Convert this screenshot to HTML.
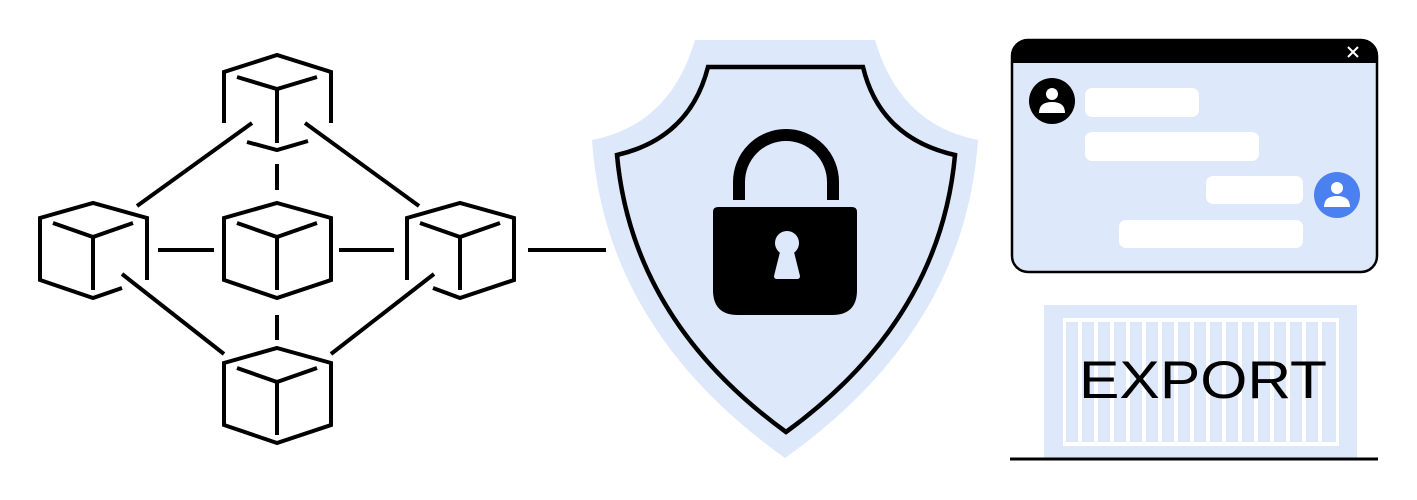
<!DOCTYPE html>
<html><head><meta charset="utf-8"><style>html,body{margin:0;padding:0;background:#fff}svg{display:block}</style></head>
<body>
<svg width="1417" height="500" viewBox="0 0 1417 500" xmlns="http://www.w3.org/2000/svg">
<g fill="none" stroke="#000" stroke-width="4" stroke-linejoin="miter">
  <!-- top cube (broken bottom) -->
  <polyline points="224,123 224,72 277,55 331,72 331,123"/>
  <polyline points="237,77 277,89 317,77"/>
  <line x1="277" y1="89" x2="277" y2="143"/>
  <polyline points="247,142 277,150 308,141"/>
  <!-- middle cube -->
  <polygon points="277,203 331,218 331,280 277,298 224,280 224,218"/>
  <polyline points="237,223 277,237 317,223"/>
  <line x1="277" y1="237" x2="277" y2="290"/>
  <!-- left cube -->
  <polyline points="122,288 93,298 40,280 40,218 93,203 147,218 147,280"/>
  <polyline points="53,223 93,237 133,223"/>
  <line x1="93" y1="237" x2="93" y2="290"/>
  <!-- right cube -->
  <polyline points="407,280 407,218 460,203 514,218 514,280 460,298 433,288"/>
  <polyline points="420,223 460,237 500,223"/>
  <line x1="460" y1="237" x2="460" y2="290"/>
  <!-- bottom cube -->
  <polygon points="277,348 331,363 331,425 277,443 224,425 224,363"/>
  <polyline points="237,368 277,382 317,368"/>
  <line x1="277" y1="382" x2="277" y2="435"/>
  <!-- connectors -->
  <line x1="252" y1="123" x2="137" y2="206"/>
  <line x1="305" y1="123" x2="419" y2="206"/>
  <line x1="158" y1="250" x2="214" y2="250"/>
  <line x1="339" y1="250" x2="394" y2="250"/>
  <line x1="528" y1="250" x2="606" y2="250"/>
  <line x1="122" y1="274" x2="224" y2="354"/>
  <line x1="434" y1="274" x2="331" y2="354"/>
  <line x1="277" y1="164" x2="277" y2="190"/>
  <line x1="277" y1="315" x2="277" y2="340"/>
</g>
<!-- shield -->
<path d="M695,40 L875,40 Q900,125 978,140 Q965,330 785,458 Q605,330 592,140 Q670,125 695,40 Z" fill="#dde8fa"/>
<path d="M708,67 L863,67 Q880,138 955,155 Q940,320 786,432 Q632,320 617,155 Q690,138 708,67 Z" fill="#dde8fa" stroke="#000" stroke-width="4.5"/>
<path d="M739,200 L739,182 A47,47 0 0 1 833,182 L833,200" fill="none" stroke="#000" stroke-width="12"/>
<path d="M718,207 L852,207 Q857,207 857,212 L857,290 Q857,315 832,315 L738,315 Q713,315 713,290 L713,212 Q713,207 718,207 Z" fill="#000"/>
<circle cx="787" cy="243" r="12" fill="#dde8fa"/>
<path d="M781,248 L793,248 L800,276 Q800,279 797,279 L777,279 Q774,279 774,276 Z" fill="#dde8fa"/>
<!-- chat window -->
<rect x="1012" y="40" width="365" height="232" rx="16" fill="#dde8fa" stroke="#000" stroke-width="2.5"/>
<path d="M1028,40 L1361,40 Q1377,40 1377,56 L1377,63 L1012,63 L1012,56 Q1012,40 1028,40 Z" fill="#000"/>
<g stroke="#fff" stroke-width="2"><line x1="1348" y1="47" x2="1358" y2="57"/><line x1="1358" y1="47" x2="1348" y2="57"/></g>
<circle cx="1052" cy="101" r="23" fill="#000"/>
<circle cx="1052" cy="94" r="6" fill="#fff"/>
<path d="M1039,113 Q1039,102 1052,102 Q1065,102 1065,113 Z" fill="#fff"/>
<circle cx="1337" cy="195" r="23" fill="#4a80f0"/>
<circle cx="1337" cy="188" r="6" fill="#fff"/>
<path d="M1324,207 Q1324,196 1337,196 Q1350,196 1350,207 Z" fill="#fff"/>
<g fill="#fff">
  <rect x="1085" y="88" width="114" height="29" rx="7"/>
  <rect x="1085" y="132" width="174" height="29" rx="7"/>
  <rect x="1206" y="176" width="97" height="28" rx="7"/>
  <rect x="1119" y="220" width="184" height="28" rx="7"/>
</g>
<!-- export -->
<rect x="1044" y="305" width="313" height="153" fill="#dde8fa"/>
<rect x="1063" y="318" width="276" height="128" fill="#fff"/>
<g fill="#dde8fa">
  <rect x="1066" y="322" width="12" height="120"/><rect x="1082" y="322" width="12" height="120"/>
  <rect x="1098" y="322" width="12" height="120"/><rect x="1114" y="322" width="12" height="120"/>
  <rect x="1130" y="322" width="12" height="120"/><rect x="1146" y="322" width="12" height="120"/>
  <rect x="1162" y="322" width="12" height="120"/><rect x="1178" y="322" width="12" height="120"/>
  <rect x="1194" y="322" width="12" height="120"/><rect x="1210" y="322" width="12" height="120"/>
  <rect x="1226" y="322" width="12" height="120"/><rect x="1242" y="322" width="12" height="120"/>
  <rect x="1258" y="322" width="12" height="120"/><rect x="1274" y="322" width="12" height="120"/>
  <rect x="1290" y="322" width="12" height="120"/><rect x="1306" y="322" width="12" height="120"/>
  <rect x="1322" y="322" width="14" height="120"/>
</g>
<text x="1079" y="398" font-family="Liberation Sans, sans-serif" font-size="53" fill="#000" textLength="248" lengthAdjust="spacingAndGlyphs">EXPORT</text>
<line x1="1010" y1="459" x2="1378" y2="459" stroke="#000" stroke-width="3"/>
</svg>
</body></html>
